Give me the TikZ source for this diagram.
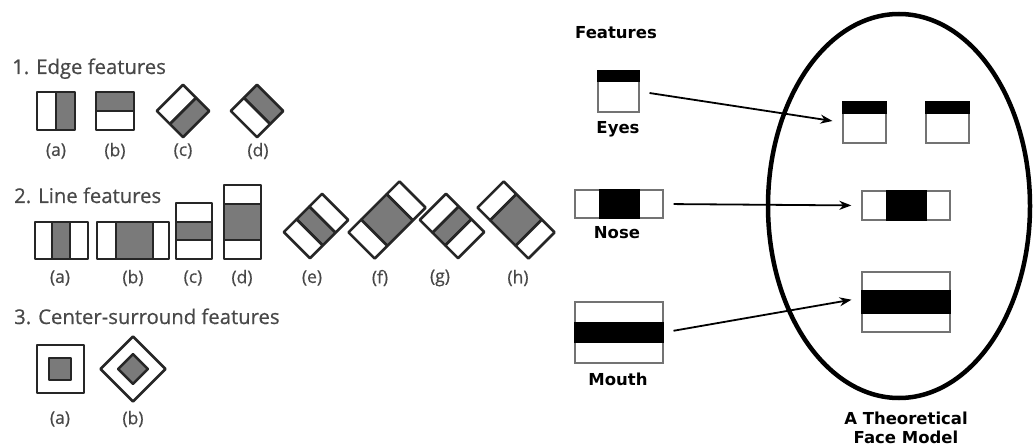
\documentclass[tikz,border=0pt]{standalone}
\usepackage{fontspec}
\usepackage{tikz}
\usetikzlibrary{arrows.meta, shapes.geometric}
\newfontfamily\labelfont{Open Sans}[FakeBold=0.6, AutoFakeBold=0.6]
\newfontfamily\facefont{DejaVu Sans}
\definecolor{haargray}{RGB}{122,122,122}
\definecolor{inkgray}{RGB}{72,72,72}

\begin{document}
\begin{tikzpicture}[
    x=1pt, y=-1pt,
    haar/.style={draw=black!85, line width=2.6pt, line join=round, fill=white},
    dark/.style={haar, fill=haargray},
    heading/.style={anchor=base west, inner sep=0pt, text=inkgray, font=\labelfont\fontsize{20.3}{22}\selectfont},
    tag/.style={inner sep=0pt, text=inkgray, font=\labelfont\fontsize{17.5}{19}\selectfont},
    facebox/.style={draw=black!55, line width=1.3pt, inner sep=0pt},
    title/.style={inner sep=0pt, align=center, font=\facefont\bfseries\fontsize{16.5}{18.5}\selectfont},
    link/.style={-{Stealth[length=12pt,width=9pt]}, line width=1.8pt, shorten <=10pt, shorten >=10pt}
]
\useasboundingbox (0,0) rectangle (1033,446);

% 1. edge features
\node[heading] (edgeT) at (12,74) {1. Edge features};
\draw[haar] (37,92) rectangle (56,130);
\draw[dark] (56,92) rectangle (75,130);
\draw[dark] (96,92) rectangle (134,111);
\draw[haar] (96,111) rectangle (134,130);
\begin{scope}[shift={(183,111)}, rotate=-45]
    \draw[haar] (-18.5,-18.5) rectangle (0,18.5);
    \draw[dark] (0,-18.5) rectangle (18.5,18.5);
\end{scope}
\begin{scope}[shift={(257,111)}, rotate=-45]
    \draw[dark] (-18.5,-18.5) rectangle (18.5,0);
    \draw[haar] (-18.5,0) rectangle (18.5,18.5);
\end{scope}
\node[tag] (ea) at (56,151) {(a)};
\node[tag] (eb) at (115,151) {(b)};
\node[tag] (ec) at (183,151) {(c)};
\node[tag] (ed) at (258,151) {(d)};

% 2. line features
\node[heading] (lineT) at (14,203) {2. Line features};
\draw[haar] (35,222) rectangle (52,259);
\draw[dark] (52,222) rectangle (70,259);
\draw[haar] (70,222) rectangle (88,259);
\draw[haar] (97,222) rectangle (116,259);
\draw[dark] (116,222) rectangle (153,259);
\draw[haar] (153,222) rectangle (169,259);
\draw[haar] (176,203) rectangle (212,222);
\draw[dark] (176,222) rectangle (212,240);
\draw[haar] (176,240) rectangle (212,259);
\draw[haar] (224,185) rectangle (261,204);
\draw[dark] (224,204) rectangle (261,240);
\draw[haar] (224,240) rectangle (261,259);
% tilted ones: centre x / centre y / angle / half of the dark band
\foreach \cx/\cy/\ang/\h in {316/226/-45/9, 387/220/-45/18, 452/226/45/9, 516/220/45/18}{
    \begin{scope}[shift={(\cx,\cy)}, rotate=\ang]
        \draw[haar] (-18.5,-\h-18) rectangle (18.5,-\h);
        \draw[dark] (-18.5,-\h) rectangle (18.5,\h);
        \draw[haar] (-18.5,\h) rectangle (18.5,\h+18);
    \end{scope}
}
\node[tag] (la) at (60,278) {(a)};
\node[tag] (lb) at (133,278) {(b)};
\node[tag] (lc) at (193,278) {(c)};
\node[tag] (ld) at (242,278) {(d)};
\node[tag] (le) at (312,278) {(e)};
\node[tag] (lf) at (380,278) {(f)};
\node[tag] (lg) at (440,278) {(g)};
\node[tag] (lh) at (518,278) {(h)};

% 3. center-surround features
\node[heading] (csT) at (14,324) {3. Center-surround features};
\draw[haar] (37,345) rectangle (84,393);
\draw[dark] (49,358) rectangle (71,380);
\begin{scope}[shift={(133,369)}, rotate=45]
    \draw[haar] (-23,-23) rectangle (23,23);
    \draw[dark] (-10.5,-10.5) rectangle (10.5,10.5);
\end{scope}
\node[tag] (ca) at (60,419) {(a)};
\node[tag] (cb) at (133,419) {(b)};

% features on their own
\node[title] (featT) at (616,33) {Features};
\node[facebox, minimum width=41pt, minimum height=41pt] (eyesF) at (618.5,91.5) {};
\fill (eyesF.north west) rectangle ([yshift=-12pt]eyesF.north east);
\node[title] (eyesT) at (618,129) {Eyes};
\node[facebox, minimum width=88pt, minimum height=28pt] (noseF) at (619,204) {};
\fill ([xshift=-20.5pt]noseF.north) rectangle ([xshift=20.5pt]noseF.south);
\node[title] (noseT) at (617,233) {Nose};
\node[facebox, minimum width=88pt, minimum height=61pt] (mouthF) at (619,332.5) {};
\fill ([yshift=10.5pt]mouthF.west) rectangle ([yshift=-10.5pt]mouthF.east);
\node[title] (mouthT) at (618,379) {Mouth};

% the face
\node[draw, ellipse, line width=4.5pt, minimum width=262pt, minimum height=384pt] (face) at (899,206) {};
\node[facebox, minimum width=43pt, minimum height=41pt] (eyeL) at (864.5,122.5) {};
\fill (eyeL.north west) rectangle ([yshift=-13pt]eyeL.north east);
\node[facebox, minimum width=43pt, minimum height=41pt] (eyeR) at (947.5,122.5) {};
\fill (eyeR.north west) rectangle ([yshift=-13pt]eyeR.north east);
\node[facebox, minimum width=88pt, minimum height=29pt] (nose) at (906,205.5) {};
\fill ([xshift=-20.5pt]nose.north) rectangle ([xshift=20.5pt]nose.south);
\node[facebox, minimum width=88pt, minimum height=60pt] (mouth) at (906,302) {};
\fill ([yshift=11.5pt]mouth.west) rectangle ([yshift=-11.5pt]mouth.east);
\node[title, anchor=north] (faceT) at (906,412) {A Theoretical\\Face Model};

\draw[link] (eyesF.east) -- (eyeL.west);
\draw[link] (noseF.east) -- (nose.west);
\draw[link] (mouthF.east) -- ([yshift=4pt]mouth.west);

\end{tikzpicture}
\end{document}
